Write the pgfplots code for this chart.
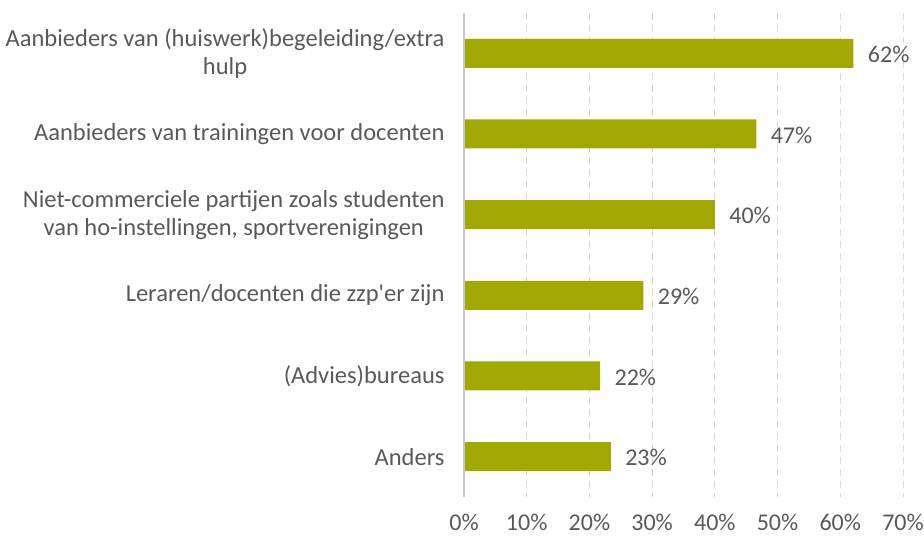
\documentclass[border=0pt]{standalone}
\usepackage{pgfplots}
\pgfplotsset{compat=1.18}
\usepackage{fontspec}
\setmainfont{Carlito}
\usetikzlibrary{calc}
\definecolor{bar}{HTML}{A2A800}
\definecolor{txt}{HTML}{595959}
\definecolor{grd}{HTML}{D9D9D9}
\begin{document}
\begin{tikzpicture}
\begin{axis}[
  name=ax,
  scale only axis,
  width=439pt, height=484pt,
  xbar, bar width=29pt,
  xmin=0, xmax=70,
  ymin=-0.5, ymax=5.5,
  y dir=reverse,
  ytick={0,...,5},
  yticklabels={{Aanbieders van (huiswerk)begeleiding/extra\\hulp},
    {Aanbieders van trainingen voor docenten},
    {Niet-commerciele partijen zoals studenten\\van ho-instellingen, sportverenigingen},
    {Leraren/docenten die zzp\textquotesingle er zijn},
    {(Advies)bureaus},
    {Anders}},
  yticklabel style={align=center, font=\fontsize{24.5}{28}\selectfont, text=txt, xshift=-16pt},
  xtick={0,10,...,70},
  xticklabel={\pgfmathprintnumber[fixed,precision=0]{\tick}\%},
  xticklabel style={font=\fontsize{24}{28}\selectfont, text=txt, yshift=-14pt},
  /pgf/number format/assume math mode=true,
  major tick length=0pt,
  xmajorgrids,
  grid style={grd, line width=1pt, dash pattern=on 7pt off 5pt},
  axis line style={draw=none},
  nodes near coords={\pgfmathprintnumber[fixed,precision=0]{\pgfplotspointmeta}\%},
  nodes near coords style={font=\fontsize{24}{28}\selectfont, text=txt, xshift=11pt, yshift=-1pt},
  point meta=x,
  clip=false,
]
\addplot[fill=bar, draw=none] coordinates {(62.1,0) (46.6,1) (40.0,2) (28.6,3) (21.7,4) (23.4,5)};
\draw[grd!80!gray, line width=1.2pt] (axis cs:0,-0.5) -- (axis cs:0,5.5);
\end{axis}
\pgfresetboundingbox
\path ($(ax.south west)+(-464pt,-41pt)$) rectangle ($(ax.north east)+(21pt,13pt)$);
\end{tikzpicture}
\end{document}
